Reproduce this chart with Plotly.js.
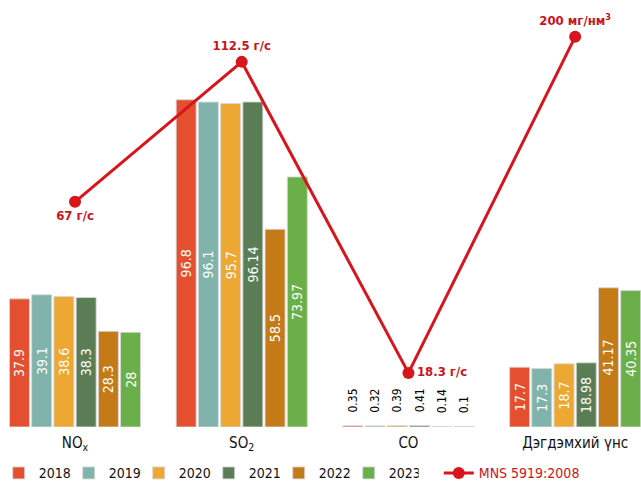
<!DOCTYPE html>
<html><head><meta charset="utf-8">
<script src="https://cdn.plot.ly/plotly-3.0.1.min.js"></script>
<style>body{margin:0;background:#fff}#c{width:641px;height:481px}</style>
</head><body><div id="c"></div>
<script>
const categories = ["NO<sub>x</sub>", "SO<sub>2</sub>", "CO", "Дэгдэмхий үнс"];
const years = ["2018", "2019", "2020", "2021", "2022", "2023"];
const v2018 = [37.9, 96.8, 0.35, 17.7];
const v2019 = [39.1, 96.1, 0.32, 17.3];
const v2020 = [38.6, 95.7, 0.39, 18.7];
const v2021 = [38.3, 96.14, 0.41, 18.98];
const v2022 = [28.3, 58.5, 0.14, 41.17];
const v2023 = [28, 73.97, 0.1, 40.35];
const colors = ["#E4502F", "#7FB3AC", "#EDA733", "#5B7D55", "#C47A17", "#6BAF48"];
const mnsName = "MNS 5919:2008";
const mnsLabels = ["67 г/с", "112.5 г/с", "18.3 г/с", "200 мг/нм<sup>3</sup>"];
// drawn height of the standard line on the chart (as in the picture, in bar units)
const mnsDrawnLevel = [66.6, 108, 16, 115.4];
const series = [v2018, v2019, v2020, v2021, v2022, v2023];

const FONT = "'DejaVu Sans Condensed', 'DejaVu Sans', sans-serif";
const NB = "\u00A0\u00A0\u00A0";
const traces = series.map((vals, i) => ({
  type: "bar", name: years[i], x: categories, y: vals, legend: "legend",
  marker: {color: colors[i], line: {color: "rgba(215,215,215,0.9)", width: 1}},
  text: vals.map(v => v < 5 ? NB + v : String(v)),
  textposition: vals.map(v => v < 5 ? "outside" : "inside"),
  insidetextanchor: "middle",
  textangle: -90,
  constraintext: "none",
  insidetextfont: {family: FONT, size: 14, color: "#ffffff"},
  outsidetextfont: {family: FONT, size: 12, color: "#000000"},
  cliponaxis: false,
  hoverinfo: "skip"
}));
traces.push({
  type: "scatter", mode: "lines+markers+text", name: mnsName, legend: "legend2",
  x: categories, y: mnsDrawnLevel,
  line: {color: "#D8141C", width: 3},
  marker: {color: "#D8141C", size: 12},
  text: mnsLabels,
  textposition: ["bottom center", "top center", "middle right", "top center"],
  textfont: {family: FONT, size: 13, color: "#C8141C", weight: "bold"},
  cliponaxis: false,
  hoverinfo: "skip"
});

const layout = {
  width: 641, height: 481,
  margin: {l: 0, r: 0, t: 0, b: 54, autoexpand: false},
  paper_bgcolor: "#fff", plot_bgcolor: "#fff",
  barmode: "group", bargap: 0.2, bargroupgap: 0.1,
  showlegend: true,
  xaxis: {range: [-0.45, 3.395], showgrid: false, zeroline: false, showline: false, ticks: "",
          ticklabelstandoff: 5,
          tickfont: {family: FONT, size: 15, color: "#111"}, fixedrange: true},
  yaxis: {range: [0, 126.3], visible: false, fixedrange: true},
  legend: {orientation: "h", x: -0.002, xanchor: "left", y: -0.071, yanchor: "top",
           font: {family: FONT, size: 14, color: "#111"}, traceorder: "normal",
           itemwidth: 30, tracegroupgap: 0, entrywidth: 25, entrywidthmode: "pixels"},
  legend2: {orientation: "h", x: 0.6845, xanchor: "left", y: -0.071, yanchor: "top",
           font: {family: FONT, size: 14, color: "#D0121B"}, itemwidth: 30},
  font: {family: FONT}
};
Plotly.newPlot("c", traces, layout, {staticPlot: true, displayModeBar: false});
</script></body></html>
